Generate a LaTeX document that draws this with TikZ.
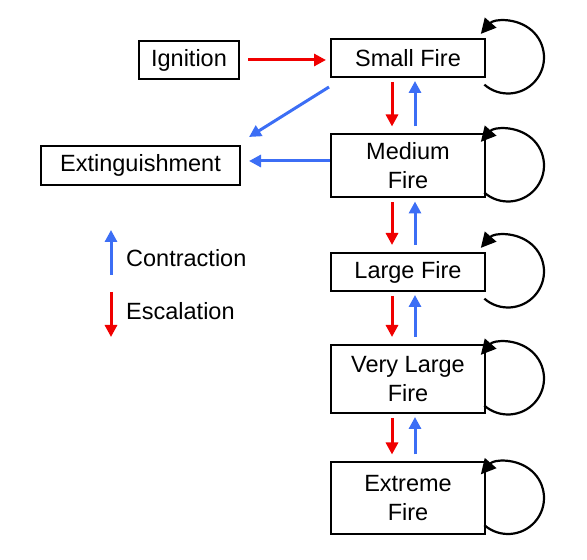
\documentclass[tikz,border=0pt]{standalone}
\usepackage{fontspec}
\setmainfont{Liberation Sans}
\usetikzlibrary{arrows.meta,calc}
\definecolor{escred}{RGB}{240,0,0}
\definecolor{conblue}{RGB}{60,110,245}
\begin{document}
\begin{tikzpicture}[x=1pt,y=1pt,
  box/.style={draw=black,line width=2pt,minimum width=154pt,align=center,inner sep=0pt,
    font=\fontsize{23.5}{29}\selectfont},
  tip/.style={-{Triangle[length=12pt,width=12pt]}},
  esc/.style={tip,draw=escred,line width=3pt},
  con/.style={tip,draw=conblue,line width=3pt},
  selfloop/.style={draw=black,line width=2.2pt,-{Triangle[length=15pt,width=15pt]}},
  lbl/.style={font=\fontsize{23.5}{29}\selectfont,anchor=west,inner sep=0pt}]
\useasboundingbox (0,0) rectangle (587,560);
\node[box,minimum width=100pt,minimum height=38pt] (ign) at (189,500) {Ignition};
\node[box,minimum width=199pt,minimum height=39pt] (ext) at (140.5,394.5) {Extinguishment};
\node[box,minimum height=38pt] (sf) at (408,502) {Small Fire};
\node[box,minimum height=63pt] (mf) at (408,394) {Medium\\Fire};
\node[box,minimum height=38pt] (lf) at (408,288) {Large Fire};
\node[box,minimum height=68pt] (vf) at (408,181) {Very Large\\Fire};
\node[box,minimum height=72pt] (xf) at (408,61.5) {Extreme\\Fire};
% legend
\node[lbl] (lcon) at (126,302) {Contraction};
\node[lbl] (lesc) at (126,249) {Escalation};
\coordinate (c1) at (111,285);
\coordinate (c2) at (111,330);
\coordinate (e1) at (111,268);
\coordinate (e2) at (111,223);
\draw[con] (c1) -- (c2);
\draw[esc] (e1) -- (e2);
% horizontal / diagonal
\draw[esc,shorten <=8pt,shorten >=4pt] (ign.east) -- (ign.east -| sf.west);
\draw[con] ([xshift=-1pt,yshift=-9pt]sf.south west) -- ([xshift=8pt,yshift=8pt]ext.north east);
\draw[con,shorten >=8pt] ([yshift=5pt]mf.west) -- ([yshift=5pt]mf.west -| ext.east);
% vertical pairs
\foreach \a/\b in {sf/mf,mf/lf,lf/vf,vf/xf}{
  \draw[esc,shorten <=4pt,shorten >=7pt] ([xshift=-16pt]\a.south) -- ([xshift=-16pt]\b.north);
  \draw[con,shorten <=7pt,shorten >=3pt] ([xshift=7pt]\b.north) -- ([xshift=7pt]\a.south);
}
% self loops
\foreach \n in {sf,mf,lf,vf,xf}{
  \draw[selfloop] ($(\n.east)+(22,0.5)+(-131:36)$) arc[start angle=-131,end angle=139,radius=36];
}
\end{tikzpicture}
\end{document}
